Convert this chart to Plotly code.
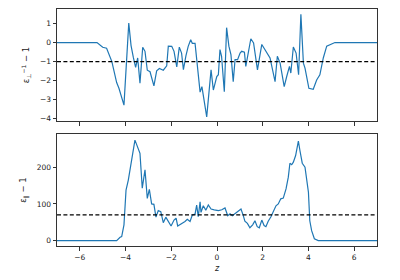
import plotly.graph_objects as go
from plotly.subplots import make_subplots

# top panel: eps_perp^-1 - 1
z_top = [-7, -5.25, -5.0, -4.83, -4.6, -4.39, -4.29, -4.07, -3.86, -3.76, -3.66, -3.56, -3.47,
         -3.37, -3.25, -3.15, -3.05, -2.93, -2.76, -2.64, -2.52, -2.35, -2.2, -2.13, -1.98,
         -1.88, -1.76, -1.65, -1.55, -1.47, -1.36, -1.26, -1.15, -1.08, -0.96, -0.74, -0.66,
         -0.45, -0.26, -0.16, -0.01, 0.06, 0.13, 0.2, 0.32, 0.42, 0.52, 0.61, 0.71, 0.79,
         0.9, 1.01, 1.08, 1.2, 1.26, 1.48, 1.6, 1.77, 1.96, 2.11, 2.32, 2.54, 2.64, 2.76,
         2.94, 3.05, 3.17, 3.23, 3.34, 3.46, 3.57, 3.67, 3.78, 3.85, 4.02, 4.21, 4.36, 4.5,
         4.65, 4.8, 4.94, 5.16, 7]
eps_perp = [0, 0, -0.25, -0.3, -1.0, -2.1, -2.4, -3.28, 1.02, -0.16, -0.78, -1.3, -0.81,
            -2.13, -0.25, -0.46, -1.45, -1.53, -2.27, -1.48, -1.36, -1.45, -1.22, -0.19, -0.2,
            -0.46, -1.28, -0.24, -0.55, -1.42, -0.7, -0.2, 0.15, -0.04, -0.04, -2.6, -2.31,
            -3.9, -1.43, -2.49, -1.78, -1.69, -0.37, -0.72, -2.58, 0.78, -0.19, -0.63, -2.05,
            -0.9, -0.9, -0.55, -0.46, -0.51, -1.25, 0.2, -0.02, -1.43, -0.1, -0.37, -0.81,
            -2.05, -0.72, -1.08, -2.31, -1.78, -1.25, -1.6, -0.23, -0.55, -1.69, 1.48, -1.08,
            -1.34, -2.4, -2.45, -1.96, -1.69, -0.81, -0.19, -0.1, 0, 0]

# bottom panel: eps_par - 1
z_bot = [-7, -4.39, -4.24, -4.17, -4.07, -3.98, -3.88, -3.78, -3.66, -3.59, -3.51, -3.37,
         -3.27, -3.15, -3.05, -2.96, -2.86, -2.76, -2.67, -2.57, -2.46, -2.35, -2.24, -2.13,
         -2.01, -1.88, -1.79, -1.72, -1.54, -1.4, -1.3, -1.18, -1.08, -0.96, -0.89, -0.82,
         -0.74, -0.7, -0.6, -0.49, -0.38, -0.26, -0.12, 0.06, 0.21, 0.35, 0.47, 0.57, 0.67,
         0.79, 0.93, 1.05, 1.15, 1.22, 1.33, 1.44, 1.56, 1.66, 1.76, 1.85, 1.96, 2.06, 2.14,
         2.24, 2.36, 2.46, 2.58, 2.68, 2.79, 2.9, 3.02, 3.12, 3.19, 3.27, 3.34, 3.44, 3.56,
         3.63, 3.73, 3.85, 3.92, 4.0, 4.06, 4.14, 4.26, 4.43, 7]
eps_par = [0, 0, 9, 11, 43, 138, 165, 200, 247, 274, 261, 238, 143, 193, 115, 140, 100, 99,
           64, 82, 79, 49, 64, 52, 40, 56, 61, 40, 46, 52, 58, 52, 70, 72, 97, 65, 106, 77,
           95, 83, 97, 86, 84, 82, 84, 89, 68, 73, 68, 73, 80, 86, 68, 53, 47, 35, 43, 54,
           38, 35, 56, 41, 38, 53, 65, 77, 95, 100, 114, 116, 141, 173, 211, 207, 214, 232,
           271, 245, 211, 200, 173, 132, 54, 27, 5, 0, 0]

ref_top = -1
ref_bot = 70
x_ticks = [-6, -4, -2, 0, 2, 4, 6]

blue = "#1f77b4"
fig = make_subplots(rows=2, cols=1, shared_xaxes=True, vertical_spacing=0.0)
fig.add_trace(go.Scatter(x=z_top, y=eps_perp, mode="lines",
                         line=dict(color=blue, width=1.2)), row=1, col=1)
fig.add_trace(go.Scatter(x=z_bot, y=eps_par, mode="lines",
                         line=dict(color=blue, width=1.2)), row=2, col=1)
fig.add_hline(y=ref_top, line=dict(color="black", width=1.2, dash="4px,2.4px"), row=1, col=1)
fig.add_hline(y=ref_bot, line=dict(color="black", width=1.2, dash="4px,2.4px"), row=2, col=1)

axis_style = dict(showline=True, linecolor="#333", linewidth=1, mirror=True,
                  ticks="outside", ticklen=3.5, tickwidth=0.8, tickcolor="#333",
                  showgrid=False, zeroline=False,
                  tickfont=dict(family="DejaVu Sans", size=7.5, color="#222"))

fig.update_xaxes(**axis_style, range=[-7, 7], tickvals=x_ticks)
fig.update_xaxes(showticklabels=False, row=1, col=1)
fig.update_xaxes(title=dict(text="<i>z</i>", standoff=4,
                            font=dict(family="DejaVu Sans", size=8, color="#222")), row=2, col=1)
fig.update_yaxes(**axis_style)
fig.update_yaxes(range=[-4.12, 1.76], tickvals=[-4, -3, -2, -1, 0, 1], row=1, col=1,
                 title=dict(text="ε<sub>⊥</sub><sup>−1</sup> − 1", standoff=8,
                            font=dict(family="DejaVu Sans", size=8.5, color="#222")))
fig.update_yaxes(range=[-14.7, 290.7], tickvals=[0, 100, 200], row=2, col=1,
                 title=dict(text="ε<sub>∥</sub> − 1", standoff=8,
                            font=dict(family="DejaVu Sans", size=8.5, color="#222")))

fig.update_layout(
    width=400, height=280,
    margin=dict(l=57, r=23, t=9, b=34),
    paper_bgcolor="white", plot_bgcolor="white",
    showlegend=False,
    yaxis=dict(domain=[0.527, 1.0]),
    yaxis2=dict(domain=[0.0, 0.4726]),
)
fig.write_html("out.html")
